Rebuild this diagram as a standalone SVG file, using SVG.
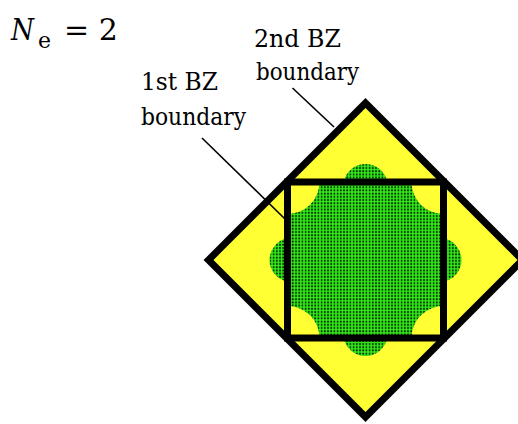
<svg xmlns="http://www.w3.org/2000/svg" width="518" height="424" viewBox="0 0 518 424">
  <style>
    .leader { stroke: #000; stroke-width: 1.6; fill: none; }
    .bz { stroke: #000; stroke-width: 7; stroke-linejoin: miter; }
    .lbl { font-family: 'DejaVu Serif', serif; font-size: 25px; fill: #000; }
    .math { font-family: 'DejaVu Serif', serif; fill: #000; }
  </style>
  <defs>
    <pattern id="dots" patternUnits="userSpaceOnUse" width="3.2" height="6.4">
      <rect width="3.2" height="6.4" fill="#33f01a"/>
      <rect x="0.7" y="0.7" width="1.8" height="1.8" fill="#062000"/>
      <rect x="0.7" y="3.9" width="1.8" height="1.8" fill="#062000"/>
    </pattern>
  </defs>
  <rect width="518" height="424" fill="#fff"/>

  <g id="ne-label">
    <text class="math" x="11" y="40" font-size="30" font-style="italic" textLength="23" lengthAdjust="spacingAndGlyphs">N</text>
    <text class="math" x="38" y="48" font-size="22" textLength="13" lengthAdjust="spacingAndGlyphs">e</text>
    <text class="math" x="64" y="40" font-size="30">= 2</text>
  </g>

  <g id="bz2-diamond">
    <polygon class="bz" points="365.5,103 522.5,260 365.5,417 208.5,260" fill="#ffff33"/>
  </g>

  <g id="fermi-sea">
    <path fill="url(#dots)" d="M319.5,182 L343.87,182 A22,22 0 0 1 387.13,182 L411.5,182 A32,32 0 0 0 443.5,214 L443.5,238.37 A22,22 0 0 1 443.5,281.63 L443.5,306 A32,32 0 0 0 411.5,338 L387.13,338 A22,22 0 0 1 343.87,338 L319.5,338 A32,32 0 0 0 287.5,306 L287.5,281.63 A22,22 0 0 1 287.5,238.37 L287.5,214 A32,32 0 0 0 319.5,182 Z"/>
  </g>

  <g id="bz1-square">
    <rect class="bz" x="287.5" y="182" width="156" height="156" fill="none"/>
  </g>

  <g id="connectors">
    <line class="leader" x1="202" y1="138" x2="284.5" y2="218.5"/>
    <line class="leader" x1="292.5" y1="88" x2="334" y2="127"/>
  </g>

  <g id="label-1st">
    <text class="lbl" x="141" y="90" textLength="77" lengthAdjust="spacingAndGlyphs">1st BZ</text>
    <text class="lbl" x="141" y="125" textLength="105" lengthAdjust="spacingAndGlyphs">boundary</text>
  </g>

  <g id="label-2nd">
    <text class="lbl" x="254" y="47" textLength="87" lengthAdjust="spacingAndGlyphs">2nd BZ</text>
    <text class="lbl" x="256" y="80" textLength="103" lengthAdjust="spacingAndGlyphs">boundary</text>
  </g>
</svg>
